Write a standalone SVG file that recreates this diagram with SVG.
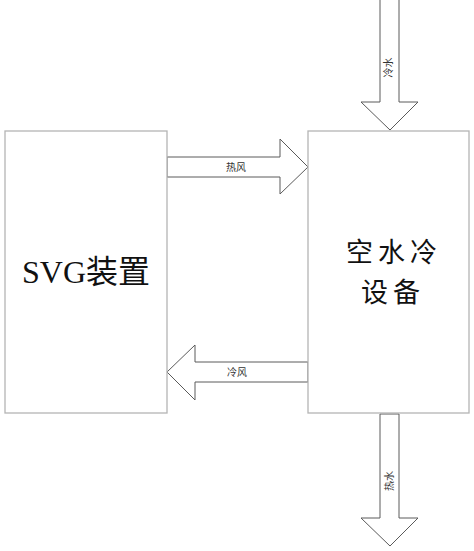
<svg xmlns="http://www.w3.org/2000/svg" width="474" height="551" viewBox="0 0 474 551">
<style>
.box{fill:#fff;stroke:#b4b4b4;stroke-width:1.3}
.arr{fill:#fff;stroke:#5a5a5a;stroke-width:1}
.big{font-family:"Liberation Serif","Noto Sans CJK SC",serif;font-size:32px;fill:#111}
.cjk{font-family:"Noto Sans CJK SC",sans-serif;font-size:27px;fill:#111;letter-spacing:5px}
.sm{font-family:"Noto Sans CJK SC",sans-serif;font-size:10px;fill:#333}
</style>
<rect width="474" height="551" fill="#fff"/>
<g id="connectors">
<g id="cold-water">
<polygon class="arr" points="380,-2 399,-2 399,102 418,102 390,130 361,102 380,102"/>
<text class="sm" transform="translate(392,67.5) rotate(-90)" text-anchor="middle">冷水</text>
</g>
<g id="hot-wind">
<polygon class="arr" points="167,157 280,157 280,139 308,167 280,194 280,177 167,177"/>
<text class="sm" x="236" y="171" text-anchor="middle">热风</text>
</g>
<g id="cold-wind">
<polygon class="arr" points="308,362 195,362 195,345 167,372 195,400 195,382 308,382"/>
<text class="sm" x="237" y="376" text-anchor="middle">冷风</text>
</g>
<g id="hot-water">
<polygon class="arr" points="380,414 399,414 399,518 418,518 390,546 361,518 380,518"/>
<text class="sm" transform="translate(393,481) rotate(-90)" text-anchor="middle">热水</text>
</g>
</g>
<g id="svg-device">
<rect class="box" x="5" y="131" width="162" height="282"/>
<text class="big" x="86" y="283" text-anchor="middle">SVG装置</text>
</g>
<g id="air-water-cooler">
<rect class="box" x="308" y="131" width="161" height="282"/>
<text class="cjk" x="394" y="262" text-anchor="middle">空水冷</text>
<text class="cjk" x="393" y="302" text-anchor="middle">设备</text>
</g>
</svg>
